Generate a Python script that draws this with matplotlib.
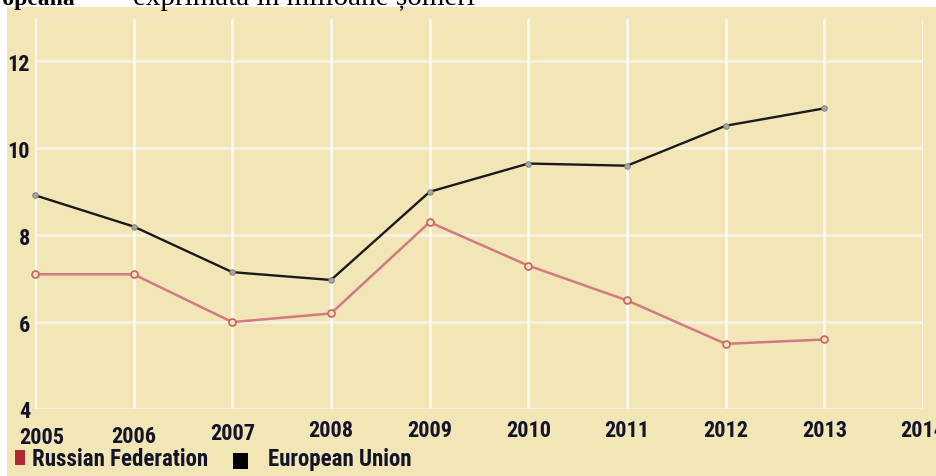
import matplotlib
matplotlib.use('Agg')
import matplotlib.pyplot as plt
from matplotlib import font_manager
from matplotlib.patches import Rectangle
from matplotlib.transforms import ScaledTranslation

# unemployment, millions
years = [2005, 2006, 2007, 2008, 2009, 2010, 2011, 2012, 2013]
russia = [7.1, 7.1, 6.0, 6.2, 8.3, 7.3, 6.5, 5.5, 5.6]
eu = [8.92, 8.2, 7.15, 6.97, 9.0, 9.65, 9.6, 10.52, 10.92]
x_ticks = [2005, 2006, 2007, 2008, 2009, 2010, 2011, 2012, 2013, 2014]
y_ticks = [4, 6, 8, 10, 12]
series_names = ['Russian Federation', 'European Union']

BG = '#F2E6B6'
INK = '#141428'

# pick a condensed sans if one is installed
names = {f.name for f in font_manager.fontManager.ttflist}
FONT = 'Liberation Sans'
for cand in ['Roboto Condensed', 'Liberation Sans Narrow', 'Open Sans Condensed', 'Noto Sans Condensed']:
    if cand in names:
        FONT = cand
        break
narrow = FONT != 'Liberation Sans'
tick_size = 16 if narrow else 13
leg_size = 16.5 if narrow else 13.5

W, H = 937, 477
fig = plt.figure(figsize=(W / 100, H / 100), dpi=100)
fig.patch.set_facecolor('white')

# beige panel behind everything
bg = fig.add_axes([7 / W, 0, 1 - 7 / W, 1 - 8 / H], zorder=-1)
bg.set_facecolor(BG)
bg.set_xticks([])
bg.set_yticks([])
for s in bg.spines.values():
    s.set_visible(False)

# cropped heading line from the source document
fig.text(75 / W, 1 - 5 / H, 'uropeană', fontsize=17, fontweight='bold',
         family='Liberation Serif', va='baseline', ha='right')
fig.text(116 / W, 1 - 5 / H, '- exprimată în milioane șomeri', fontsize=21,
         family='Liberation Serif', va='baseline', ha='left')

ax = fig.add_axes([35 / W, 1 - 410 / H, (923 - 35) / W, (410 - 19) / H])
ax.set_facecolor(BG)
ax.set_xlim(2005, 2014)
ax.set_ylim(4, 13)

for yv in y_ticks:
    ax.axhline(yv, color='#F7F2E4', lw=2, zorder=1)
for xv in x_ticks:
    ax.axvline(xv, color='#FBF9F3', lw=2, zorder=1)
ax.axhline(13, color='#EDE6CF', lw=1.5, zorder=1)

ax.plot(years, russia, color='#D27A82', lw=1.8, marker='o', ms=5,
        mfc=BG, mec='#C8606A', mew=1.2, zorder=3, clip_on=False)
ax.plot(years, eu, color='#1A1A1A', lw=1.7, marker='o', ms=4,
        mfc='#A8A8A8', mec='#777777', mew=0.6, zorder=3, clip_on=False)

for s in ax.spines.values():
    s.set_visible(False)
ax.set_xticks(x_ticks)
ax.set_yticks(y_ticks)
ax.set_xticklabels([str(v) for v in x_ticks])
ax.tick_params(length=0)
ax.tick_params(axis='x', pad=7)
ax.tick_params(axis='y', pad=3.5)
for lab in ax.get_xticklabels() + ax.get_yticklabels():
    lab.set_family(FONT)
    lab.set_fontweight('bold')
    lab.set_fontsize(tick_size)
    lab.set_color(INK)

# first year labels sit a little lower (and 2005 nudged right) in the source
xlabs = ax.get_xticklabels()
for lab, (dx, dy) in zip(xlabs[:3], [(7, -7), (0, -6), (0, -3)]):
    lab.set_transform(lab.get_transform() + ScaledTranslation(dx / 100, dy / 100, fig.dpi_scale_trans))

# legend row under the axis labels
leg_y = 1 - 460 / H
fig.add_artist(Rectangle((15 / W, 1 - 466 / H), 10 / W, 15 / H, transform=fig.transFigure,
                         facecolor='#B02A30', edgecolor='none'))
fig.text(32 / W, leg_y, series_names[0], family=FONT, fontweight='bold',
         fontsize=leg_size, color=INK, va='center', ha='left')
fig.add_artist(Rectangle((233 / W, 1 - 470 / H), 15 / W, 16 / H, transform=fig.transFigure,
                         facecolor='#000000', edgecolor='none'))
fig.text(268 / W, leg_y, series_names[1], family=FONT, fontweight='bold',
         fontsize=leg_size, color=INK, va='center', ha='left')

fig.savefig('out.png', dpi=100, facecolor='white')
